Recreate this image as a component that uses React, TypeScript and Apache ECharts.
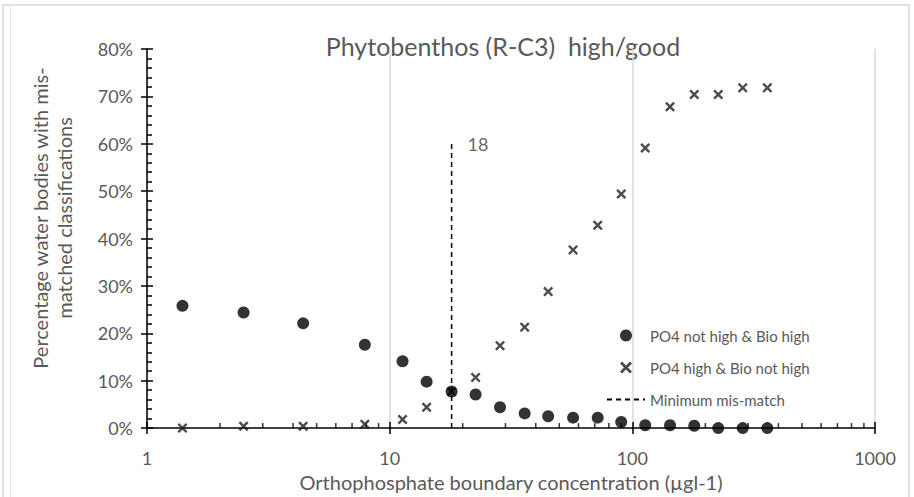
import React, { useEffect, useRef } from "react";
import * as echarts from "echarts";

const xValues = [1.4, 2.5, 4.4, 7.9, 11.3, 14.2, 18, 22.6, 28.5, 36, 45, 57, 72, 90, 113, 143, 180, 226, 285, 360];
const notHighBioHigh = [25.8, 24.4, 22.1, 17.6, 14.1, 9.8, 7.7, 7.1, 4.4, 3.1, 2.5, 2.2, 2.2, 1.3, 0.6, 0.6, 0.5, 0, 0, 0];
const highBioNotHigh = [0, 0.4, 0.4, 0.8, 1.8, 4.4, 7.7, 10.7, 17.4, 21.3, 28.8, 37.6, 42.8, 49.4, 59.1, 67.8, 70.4, 70.4, 71.8, 71.8];
const minimumX = 18;
const minimumLine = [[18, 0], [18, 60]];
const xMinorTicks = [2, 3, 4, 5, 6, 7, 8, 9, 20, 30, 40, 50, 60, 70, 80, 90, 200, 300, 400, 500, 600, 700, 800, 900];
const seriesNames = ["PO4 not high & Bio high", "PO4 high & Bio not high", "Minimum mis-match"];
const titleText = "Phytobenthos (R-C3)  high/good";
const yAxisName = "Percentage water bodies with mis-\nmatched classifications";
const xAxisName = "Orthophosphate boundary concentration (µgl-1)";

const FONT = "Lato, 'Noto Sans', sans-serif";
const GRAY = "#595959";
const CROSS = "path://M0,1.7L1.7,0L5,3.3L8.3,0L10,1.7L6.7,5L10,8.3L8.3,10L5,6.7L1.7,10L0,8.3L3.3,5Z";

export default function App() {
  const ref = useRef<HTMLDivElement>(null);
  useEffect(() => {
    if (!ref.current) return;
    const chart = echarts.init(ref.current, null, { renderer: "svg" });
    const option: any = {
      animation: false,
      backgroundColor: "#ffffff",
      textStyle: { fontFamily: FONT },
      grid: { left: 147, right: 39, top: 49, bottom: 60, containLabel: false },
      xAxis: [
        {
          type: "log",
          logBase: 10,
          min: 1,
          max: 1000,
          position: "bottom",
          axisLine: { show: true, onZero: false, lineStyle: { color: "#000", width: 1.5 } },
          axisTick: { show: true, inside: true, length: 6, lineStyle: { color: "#000", width: 1.5 } },
          axisLabel: {
            show: true,
            margin: 21,
            fontSize: 18,
            color: GRAY,
            fontFamily: FONT,
            formatter: (v: number) => String(v),
          },
          splitLine: { show: true, lineStyle: { color: "#d9d9d9", width: 1.5 } },
          name: xAxisName,
          nameLocation: "middle",
          nameGap: 40,
          nameTextStyle: { fontSize: 20, color: GRAY, fontFamily: FONT },
        },
        {
          type: "log",
          logBase: 10,
          min: 1,
          max: 1000,
          position: "bottom",
          axisLine: { show: false },
          axisTick: { show: true, inside: false, length: 6, lineStyle: { color: "#000", width: 1.5 } },
          axisLabel: { show: false },
          splitLine: { show: false },
        },
      ],
      yAxis: [
        {
          type: "value",
          min: 0,
          max: 80,
          interval: 10,
          position: "left",
          axisLine: { show: true, lineStyle: { color: "#000", width: 1.5 } },
          axisTick: { show: true, inside: true, length: 6, lineStyle: { color: "#000", width: 1.5 } },
          minorTick: { show: true, splitNumber: 5, length: 5, lineStyle: { color: "#000", width: 1.5 } },
          axisLabel: { show: true, margin: 14, fontSize: 18, color: GRAY, fontFamily: FONT, formatter: "{value}%" },
          splitLine: { show: false },
        },
        {
          type: "value",
          min: 0,
          max: 80,
          interval: 10,
          position: "left",
          axisLine: { show: false },
          axisTick: { show: true, inside: false, length: 6, lineStyle: { color: "#000", width: 1.5 } },
          axisLabel: { show: false },
          splitLine: { show: false },
        },
      ],
      legend: {
        show: true,
        orient: "vertical",
        left: 601,
        top: 323,
        itemWidth: 38,
        itemHeight: 12,
        itemGap: 17,
        textStyle: { fontSize: 15, color: GRAY, fontFamily: FONT },
        data: [
          { name: seriesNames[0], icon: "circle" },
          { name: seriesNames[1], icon: CROSS },
          { name: seriesNames[2], itemStyle: { opacity: 0 } },
        ],
      },
      series: [
        {
          name: "minorTicks",
          type: "scatter",
          silent: true,
          symbol: "rect",
          symbolSize: [1.5, 5],
          symbolOffset: [0, -2.5],
          itemStyle: { color: "#000" },
          data: xMinorTicks.map((v) => [v, 0]),
          z: 1,
        },
        {
          name: seriesNames[2],
          type: "line",
          symbol: "none",
          lineStyle: { type: [5, 4], width: 1.5, color: "#000" },
          itemStyle: { color: "#000" },
          data: minimumLine,
          z: 2,
        },
        {
          name: "minimumLabel",
          type: "scatter",
          silent: true,
          symbolSize: 0,
          data: [[minimumX, minimumLine[1][1]]],
          label: {
            show: true,
            position: "right",
            distance: 16,
            formatter: String(minimumX),
            fontSize: 18,
            color: "#404040",
            fontFamily: FONT,
          },
        },
        {
          name: seriesNames[1],
          type: "scatter",
          symbol: CROSS,
          symbolSize: 10,
          itemStyle: { color: "#1f1f1f" },
          data: xValues.map((x, i) => [x, highBioNotHigh[i]]),
          z: 3,
        },
        {
          name: seriesNames[0],
          type: "scatter",
          symbol: "circle",
          symbolSize: 12,
          itemStyle: { color: "#000" },
          data: xValues.map((x, i) => [x, notHighBioHigh[i]]),
          z: 4,
        },
      ],
      graphic: [
        {
          type: "rect",
          shape: { x: 3, y: 5, width: 906, height: 520 },
          style: { fill: "none", stroke: "#d9d9d9", lineWidth: 1.5 },
          silent: true,
        },
        {
          type: "line",
          shape: { x1: 10.5, y1: 5, x2: 10.5, y2: 497 },
          style: { stroke: "#e3e3e3", lineWidth: 1 },
          silent: true,
        },
        {
          type: "text",
          x: 503,
          y: 46,
          style: {
            text: titleText,
            align: "center",
            verticalAlign: "middle",
            fontSize: 25,
            fill: GRAY,
            fontFamily: FONT,
          },
        },
        {
          type: "text",
          x: 52,
          y: 218,
          rotation: Math.PI / 2,
          style: {
            text: yAxisName,
            align: "center",
            verticalAlign: "middle",
            fontSize: 20,
            lineHeight: 24,
            fill: GRAY,
            fontFamily: FONT,
          },
        },
      ],
    };
    chart.setOption(option);
    return () => chart.dispose();
  }, []);
  return (
    <div
      ref={ref}
      style={{ position: "fixed", left: 0, top: 0, width: 914, height: 497, background: "#fff" }}
    />
  );
}
